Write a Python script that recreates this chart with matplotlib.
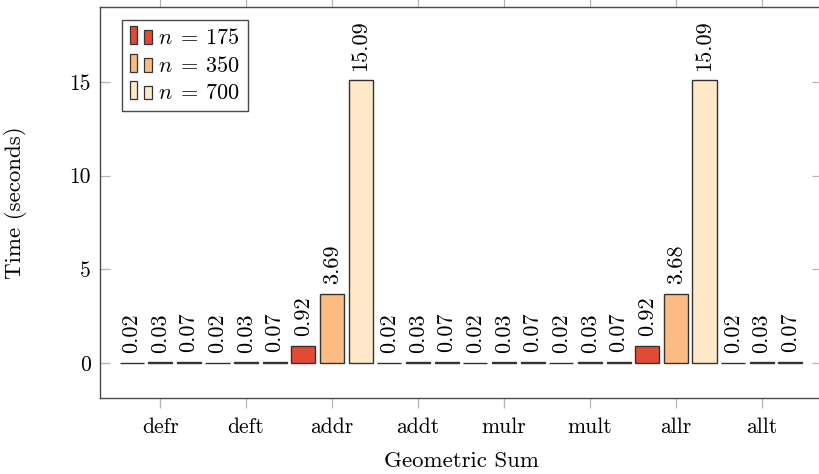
import matplotlib
matplotlib.use("Agg")
import matplotlib.pyplot as plt
from matplotlib.patches import Rectangle, Patch
from matplotlib.legend_handler import HandlerBase
import numpy as np

plt.rcParams['font.family'] = ['cmr10']
plt.rcParams['mathtext.fontset'] = 'cm'
plt.rcParams['axes.unicode_minus'] = False
plt.rcParams['axes.formatter.use_mathtext'] = True

categories = ['defr', 'deft', 'addr', 'addt', 'mulr', 'mult', 'allr', 'allt']
n175 = [0.02, 0.02, 0.92, 0.02, 0.02, 0.02, 0.92, 0.02]
n350 = [0.03, 0.03, 3.69, 0.03, 0.03, 0.03, 3.68, 0.03]
n700 = [0.07, 0.07, 15.09, 0.07, 0.07, 0.07, 15.09, 0.07]
series_labels = [r'$n\;=\,175$', r'$n\;=\,350$', r'$n\;=\,700$']
colors = ['#e34a33', '#fdbb84', '#fee8c8']
yticks = [0, 5, 10, 15]

EDGE = '#333333'
TICKC = '#b5b5b5'
SPINEC = '#4a4a4a'

fig = plt.figure(figsize=(8.2, 4.74), dpi=100)
ax = fig.add_axes([100/820, 76/474, 722/820, 391/474])

x = np.arange(len(categories))
offset = 0.333
width = 0.28
for k, (vals, col) in enumerate(zip([n175, n350, n700], colors)):
    xs = x + (k - 1) * offset
    ax.bar(xs, vals, width=width, color=col, edgecolor=EDGE, linewidth=1.0, zorder=2)
    for xi, v in zip(xs, vals):
        ax.annotate(f'{v:.2f}', xy=(xi, v), xytext=(0, 7), textcoords='offset points',
                    rotation=90, ha='center', va='bottom', fontsize=16, zorder=3)

ax.set_xlim(-0.7, 7.7)
ax.set_ylim(-1.868, 19.0)
ax.set_xticks(x)
ax.set_xticklabels(categories)
ax.set_yticks(yticks)
ax.set_yticklabels([str(t) for t in yticks])

ax.tick_params(axis='x', direction='out', top=True, bottom=True, length=7.2, width=0.9,
               color=TICKC, labelsize=15.5, pad=6.5)
ax.tick_params(axis='y', direction='in', left=True, right=True, length=7.2, width=0.9,
               color=TICKC, labelsize=15.5, pad=6.5)
for s in ax.spines.values():
    s.set_color(SPINEC)
    s.set_linewidth(1.0)

fig.text(461/820, 1 - 467/474, 'Geometric Sum', ha='center', va='baseline', fontsize=16.5)
fig.text(16/820, 1 - 203/474, 'Time (seconds)', ha='center', va='center', rotation=90,
         fontsize=16.5)


class TwoBarHandler(HandlerBase):
    def create_artists(self, legend, orig_handle, xdescent, ydescent, width, height,
                       fontsize, trans):
        fc = orig_handle.get_facecolor()
        w = 5.5
        gap = 4.7
        r1 = Rectangle((-xdescent, -ydescent), w, 12.7, facecolor=fc, edgecolor=EDGE,
                       linewidth=0.9, transform=trans)
        r2 = Rectangle((-xdescent + w + gap, -ydescent), w, 9.6, facecolor=fc,
                       edgecolor=EDGE, linewidth=0.9, transform=trans)
        return [r1, r2]


handles = [Patch(facecolor=c) for c in colors]
leg = ax.legend(handles, series_labels, loc='upper left',
                bbox_to_anchor=(22/722, 1 - 13/391), borderaxespad=0,
                handler_map={Patch: TwoBarHandler()}, fontsize=16,
                handlelength=0.98, handletextpad=0.3, labelspacing=0.35,
                borderpad=0.35, fancybox=False, framealpha=1, edgecolor=SPINEC)
leg.get_frame().set_linewidth(1.0)

fig.savefig('out.png', dpi=100)
